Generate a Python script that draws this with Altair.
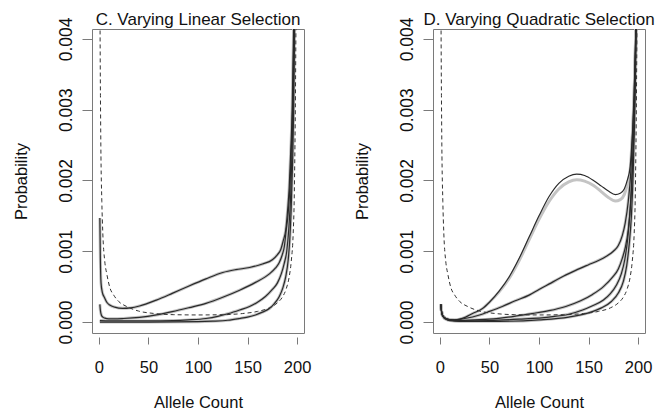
import altair as alt
import pandas as pd

# ---------------- data ----------------
neutral_x = [0.8, 1.2, 1.6, 2, 3, 4, 6, 8, 11, 15, 20, 28, 40, 55, 75, 100, 125, 145, 160, 172,
             180, 185, 189, 192, 194, 196, 197, 197.8, 198.3, 198.8]
neutral_y = [0.0060, 0.0042, 0.0032, 0.0025, 0.0017, 0.00125, 0.00085, 0.00068, 0.00049, 0.00038,
             0.00029, 0.00022, 0.000155, 0.000122, 0.000104, 0.0001, 0.000104, 0.00012, 0.00015, 0.0002,
             0.00027, 0.00035, 0.00047, 0.00064, 0.00085, 0.00125, 0.0017, 0.0025, 0.0032, 0.0042]

# Panel C: varying linear selection
c1_x = [1, 1.5, 2.2, 3.5, 5.5, 8, 11, 16, 24, 32, 41, 58, 74, 91, 108, 125, 138, 152, 165, 175,
        180, 183.4, 186, 188.5, 190.5, 192, 193.5, 195, 196.5]
c1_y = [0.00147, 0.0009, 0.00055, 0.00042, 0.00035, 0.00028, 0.00024, 0.00021, 0.000193, 0.0002,
        0.000226, 0.00031, 0.000405, 0.00051, 0.00061, 0.0007, 0.00074, 0.00077, 0.00082, 0.00088,
        0.00095, 0.00102, 0.00115, 0.0013, 0.0016, 0.0019, 0.0024, 0.003, 0.0042]
c2_x = [1, 1.5, 2.5, 4, 6, 10, 15, 25, 41, 58, 74, 91, 108, 125, 142, 158, 172, 178, 182, 185,
        187, 189, 191, 193, 194.5, 195.8, 196.8]
c2_y = [0.00025, 0.00017, 0.0001, 0.00007, 0.000055, 0.000045, 0.000045, 0.00005, 0.000066, 0.0001,
        0.000146, 0.000203, 0.000264, 0.00035, 0.00045, 0.00056, 0.00068, 0.00076, 0.00084, 0.00095,
        0.00106, 0.0013, 0.00154, 0.002, 0.0026, 0.0033, 0.0042]
c3_x = [1, 20, 50, 75, 90, 108, 120, 131, 142, 152, 160, 168, 175, 180, 184, 187, 189.5, 191.5,
        193.5, 195, 196.2, 197.2]
c3_y = [0.00002, 0.000015, 0.000015, 0.00002, 0.00003, 0.00005, 0.00008, 0.00012, 0.00017, 0.00022,
        0.00028, 0.00036, 0.00046, 0.00055, 0.00068, 0.00083, 0.001, 0.0013, 0.0018, 0.0025, 0.0032,
        0.0042]
c4_x = [1, 50, 100, 115, 130, 142, 150, 158, 165, 172, 177, 182, 185.5, 188.5, 191, 192.5, 194,
        195.5, 196.5, 197.5]
c4_y = [0.0, 0.0, 0.000005, 0.000012, 0.000025, 0.00005, 0.00007, 0.0001, 0.00014, 0.00019, 0.00026,
        0.00036, 0.00048, 0.00064, 0.00088, 0.00115, 0.0016, 0.0023, 0.003, 0.0042]

# Panel D: varying quadratic selection
d1_x = [1, 1.5, 2.5, 4, 6, 10, 15, 20, 26, 33, 43, 50, 60, 70, 80, 90, 100, 110, 120, 130, 138,
        146, 155, 163, 170, 177, 182, 186, 189, 192, 194, 196, 197.8]
d1_y = [0.00025, 0.00017, 0.0001, 0.00007, 0.00005, 0.000035, 0.00003, 0.00004, 0.00007, 0.00012,
        0.00019, 0.00028, 0.00044, 0.00064, 0.0009, 0.0012, 0.0015, 0.00177, 0.00196, 0.00206, 0.00209,
        0.00207, 0.002, 0.00192, 0.00185, 0.0018, 0.00182, 0.00188, 0.002, 0.0022, 0.0026, 0.0032, 0.0042]
d1g_y = [0.00025, 0.00017, 0.0001, 0.00007, 0.00005, 0.000035, 0.00003, 0.00004, 0.00007, 0.00012,
         0.00019, 0.00028, 0.00043, 0.00062, 0.00087, 0.00116, 0.00145, 0.0017, 0.00188, 0.00198,
         0.00201, 0.00199, 0.00193, 0.00184, 0.00176, 0.00171, 0.00173, 0.0018, 0.00194, 0.00216,
         0.0026, 0.0032, 0.0042]
d2_x = [1, 1.5, 2.5, 4, 6, 10, 15, 25, 40, 50, 63, 76, 90, 100, 112, 125, 137, 150, 160, 168, 175,
        180, 184, 187, 190, 192.5, 194.5, 196.3, 197.8]
d2_y = [0.00025, 0.00017, 0.0001, 0.00007, 0.00005, 0.000035, 0.00003, 0.00005, 0.0001, 0.00015,
        0.00022, 0.0003, 0.00038, 0.00046, 0.00055, 0.00065, 0.00073, 0.00081, 0.00087, 0.00093, 0.001,
        0.00108, 0.00122, 0.0014, 0.0017, 0.0021, 0.0027, 0.0034, 0.0042]
d3_x = [1, 1.5, 2.5, 4, 6, 10, 20, 35, 50, 75, 93, 110, 127, 142, 154, 165, 174, 180, 184, 187,
        190, 192.5, 194.5, 196.3, 197.8]
d3_y = [0.00025, 0.00017, 0.0001, 0.00007, 0.00005, 0.00003, 0.00002, 0.00003, 0.00004, 0.00008,
        0.00012, 0.00016, 0.00022, 0.0003, 0.00039, 0.0005, 0.00063, 0.00075, 0.0009, 0.00105, 0.0013,
        0.0017, 0.0023, 0.003, 0.0042]
d4_x = [1, 1.5, 2.5, 4, 6, 10, 20, 50, 80, 110, 130, 144, 154, 165, 172, 178, 183, 186.5, 189.5,
        192, 194.3, 196.2, 198]
d4_y = [0.00025, 0.00017, 0.0001, 0.00007, 0.000045, 0.000025, 0.000015, 0.00002, 0.00004, 0.00007,
        0.00011, 0.00017, 0.00023, 0.00031, 0.0004, 0.00052, 0.00068, 0.00088, 0.00118, 0.0016, 0.0022,
        0.003, 0.0042]
d5_x = [1, 1.5, 2.5, 4, 6, 10, 20, 60, 100, 130, 150, 163, 173, 180, 185, 188.5, 191, 193.2, 195,
        196.7, 198.2]
d5_y = [0.00025, 0.00017, 0.0001, 0.00006, 0.00004, 0.00002, 0.00001, 0.00001, 0.00003, 0.00007,
        0.00013, 0.0002, 0.00029, 0.00041, 0.00057, 0.0008, 0.0011, 0.0015, 0.0021, 0.003, 0.0042]

x_ticks = [0, 50, 100, 150, 200]
y_ticks = [0.0, 0.001, 0.002, 0.003, 0.004]


def frame(series):
    rows = []
    for name, xs, ys in series:
        for xv, yv in zip(xs, ys):
            rows.append({"curve": name, "x": xv, "y": yv})
    return pd.DataFrame(rows)


FONT = "Liberation Sans"
X_DOM = [-6.92, 206.92]
Y_DOM = [-0.000155, 0.00414]


def panel(title, black_series, gray_series):
    xenc = alt.X("x:Q", scale=alt.Scale(domain=X_DOM, nice=False, zero=False),
                 axis=alt.Axis(values=x_ticks, title="Allele Count", domain=False, grid=False,
                               tickSize=7, offset=4, labelPadding=15, titlePadding=19,
                               labelFlush=False, labelFontSize=16.5, titleFontSize=16.5,
                               titleFontWeight="normal", labelFont=FONT, titleFont=FONT,
                               tickColor="#7a7a7a", labelColor="#111111", titleColor="#111111"))
    yenc = alt.Y("y:Q", scale=alt.Scale(domain=Y_DOM, nice=False, zero=False),
                 axis=alt.Axis(values=y_ticks, format=".3f", title="Probability", domain=False,
                               grid=False, tickSize=10, labelAngle=270, labelAlign="center",
                               labelBaseline="alphabetic", labelPadding=11, titlePadding=28,
                               labelFontSize=17.5, titleFontSize=16.5, titleFontWeight="normal",
                               labelFont=FONT, titleFont=FONT, tickColor="#7a7a7a",
                               labelColor="#111111", titleColor="#111111"))
    gray = alt.Chart(frame(gray_series)).mark_line(
        color="#c4c4c4", strokeWidth=3.0, clip=True, interpolate="monotone"
    ).encode(x=xenc, y=yenc, detail="curve:N")
    black = alt.Chart(frame(black_series)).mark_line(
        color="#2a2a2a", strokeWidth=1.2, clip=True, interpolate="monotone"
    ).encode(x="x:Q", y="y:Q", detail="curve:N")
    dashed = alt.Chart(frame([("neutral", neutral_x, neutral_y)])).mark_line(
        color="#333333", strokeWidth=1, strokeDash=[4, 3], clip=True, interpolate="monotone"
    ).encode(x="x:Q", y="y:Q")
    return alt.layer(gray, black, dashed).properties(
        width=212, height=304,
        title=alt.TitleParams(title, fontSize=17, font=FONT, fontWeight="normal",
                              anchor="middle", frame="group", offset=5, dy=17,
                              color="#111111"),
    )


c_series = [("c1", c1_x, c1_y), ("c2", c2_x, c2_y), ("c3", c3_x, c3_y), ("c4", c4_x, c4_y)]
d_black = [("d1", d1_x, d1_y), ("d2", d2_x, d2_y), ("d3", d3_x, d3_y),
           ("d4", d4_x, d4_y), ("d5", d5_x, d5_y)]
d_gray = [("d1", d1_x, d1g_y), ("d2", d2_x, d2_y), ("d3", d3_x, d3_y),
          ("d4", d4_x, d4_y), ("d5", d5_x, d5_y)]

left = panel("C. Varying Linear Selection", c_series, c_series)
right = panel("D. Varying Quadratic Selection", d_black, d_gray)

chart = alt.hconcat(left, right, spacing=129, bounds="flush").properties(
    padding={"left": 4, "top": 2, "right": 0, "bottom": 0},
    background="white",
).configure_view(
    stroke="#7a7a7a", strokeWidth=1
)

chart.save("out.html", embed_options={"renderer": "svg", "actions": False})
